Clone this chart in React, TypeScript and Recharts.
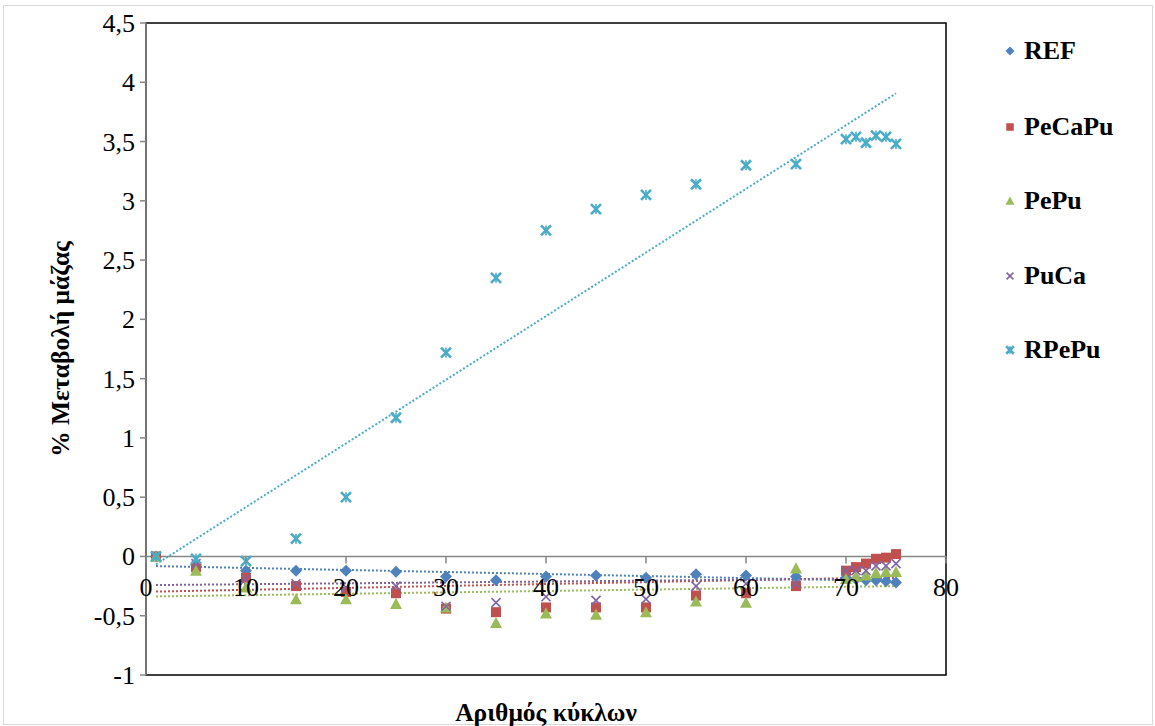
import React from 'react'
import { ScatterChart, Scatter, XAxis, YAxis, ReferenceLine, ReferenceArea } from 'recharts'

// cycle numbers (x) shared by every series
const CYCLES = [1, 5, 10, 15, 20, 25, 30, 35, 40, 45, 50, 55, 60, 65, 70, 71, 72, 73, 74, 75]

// % mass change per specimen type
const REF = [0, -0.07, -0.12, -0.12, -0.12, -0.13, -0.17, -0.2, -0.17, -0.16, -0.18, -0.15, -0.16, -0.17, -0.18, -0.19, -0.2, -0.2, -0.21, -0.22]
const PECAPU = [0, -0.09, -0.18, -0.25, -0.3, -0.31, -0.44, -0.47, -0.43, -0.43, -0.43, -0.33, -0.31, -0.25, -0.12, -0.09, -0.06, -0.02, -0.01, 0.02]
const PEPU = [0, -0.12, -0.26, -0.36, -0.36, -0.4, -0.43, -0.56, -0.48, -0.49, -0.47, -0.38, -0.39, -0.1, -0.19, -0.17, -0.16, -0.14, -0.13, -0.13]
const PUCA = [0, -0.06, -0.19, -0.23, -0.26, -0.25, -0.42, -0.39, -0.34, -0.37, -0.36, -0.25, -0.23, -0.23, -0.12, -0.12, -0.12, -0.08, -0.08, -0.06]
const RPEPU = [0, -0.02, -0.04, 0.15, 0.5, 1.17, 1.72, 2.35, 2.75, 2.93, 3.05, 3.14, 3.3, 3.31, 3.52, 3.54, 3.49, 3.55, 3.54, 3.48]

const X_TICKS = [0, 10, 20, 30, 40, 50, 60, 70, 80]
const Y_TICKS = [-1, -0.5, 0, 0.5, 1, 1.5, 2, 2.5, 3, 3.5, 4, 4.5]

const COLORS = {
  REF: '#4F81BD',
  PeCaPu: '#C0504D',
  PePu: '#9BBB59',
  PuCa: '#8064A2',
  RPePu: '#4BACC6',
}

const FONT = 'Liberation Serif'
const TICK_SIZE = 26
const TITLE_SIZE = 25.5
const AXIS_GRAY = '#868686'

const W = 1155
const H = 726
const PLOT_TOP = 23
const PLOT_LEFT = 146
const PLOT_RIGHT = 946
const PLOT_BOTTOM = 675
const Y_MIN = -1
const Y_MAX = 4.5
// pixel row of y = 0, where Excel draws the horizontal axis
const ZERO_Y = PLOT_TOP + (PLOT_BOTTOM - PLOT_TOP) * (Y_MAX / (Y_MAX - Y_MIN))

type Pt = { x: number; y: number }
const toPoints = (ys: number[]): Pt[] => ys.map((y, i) => ({ x: CYCLES[i], y }))

// least squares trendline, drawn over the data's x range (like Excel)
function trend(ys: number[]): Pt[] {
  const n = ys.length
  const mx = CYCLES.reduce((s, v) => s + v, 0) / n
  const my = ys.reduce((s, v) => s + v, 0) / n
  let sxy = 0
  let sxx = 0
  ys.forEach((y, i) => {
    sxy += (CYCLES[i] - mx) * (y - my)
    sxx += (CYCLES[i] - mx) ** 2
  })
  const b = sxy / sxx
  const a = my - b * mx
  const x0 = Math.min(...CYCLES)
  const x1 = Math.max(...CYCLES)
  return [
    { x: x0, y: a + b * x0 },
    { x: x1, y: a + b * x1 },
  ]
}

type MarkerKind = 'diamond' | 'square' | 'triangle' | 'x' | 'star'

function Marker({ kind, cx, cy, color, s = 1 }: { kind: MarkerKind; cx: number; cy: number; color: string; s?: number }) {
  if (kind === 'diamond') {
    const r = 6 * s
    return <polygon points={`${cx},${cy - r} ${cx + r},${cy} ${cx},${cy + r} ${cx - r},${cy}`} fill={color} />
  }
  if (kind === 'square') {
    const r = 5 * s
    return <rect x={cx - r} y={cy - r} width={r * 2} height={r * 2} fill={color} />
  }
  if (kind === 'triangle') {
    const r = 6 * s
    return <polygon points={`${cx},${cy - r} ${cx + r},${cy + r * 0.85} ${cx - r},${cy + r * 0.85}`} fill={color} />
  }
  if (kind === 'x') {
    const r = 4.5 * s
    return (
      <g stroke={color} strokeWidth={1.6}>
        <line x1={cx - r} y1={cy - r} x2={cx + r} y2={cy + r} />
        <line x1={cx - r} y1={cy + r} x2={cx + r} y2={cy - r} />
      </g>
    )
  }
  const r = 5 * s
  return (
    <g stroke={color} strokeWidth={2.6}>
      <line x1={cx - r} y1={cy - r} x2={cx + r} y2={cy + r} />
      <line x1={cx - r} y1={cy + r} x2={cx + r} y2={cy - r} />
      <line x1={cx} y1={cy - r} x2={cx} y2={cy + r} strokeWidth={1.6} />
    </g>
  )
}

const SERIES: { name: keyof typeof COLORS; values: number[]; kind: MarkerKind }[] = [
  { name: 'REF', values: REF, kind: 'diamond' },
  { name: 'PeCaPu', values: PECAPU, kind: 'square' },
  { name: 'PePu', values: PEPU, kind: 'triangle' },
  { name: 'PuCa', values: PUCA, kind: 'x' },
  { name: 'RPePu', values: RPEPU, kind: 'star' },
]

const LEGEND_Y = [51, 127, 201, 276, 350]

function XTick(props: any) {
  const { x, payload } = props
  return (
    <g>
      <line x1={x} x2={x} y1={ZERO_Y} y2={ZERO_Y + 7} stroke={AXIS_GRAY} strokeWidth={1.5} />
      <text x={x} y={ZERO_Y + 40} textAnchor="middle" style={{ fontFamily: FONT, fontSize: TICK_SIZE }} fill="#000">
        {payload.value}
      </text>
    </g>
  )
}

function YTick(props: any) {
  const { x, y, payload } = props
  return (
    <text x={x} y={y + 9} textAnchor="end" style={{ fontFamily: FONT, fontSize: TICK_SIZE }} fill="#000">
      {String(payload.value).replace('.', ',')}
    </text>
  )
}

export default function App() {
  return (
    <div style={{ position: 'fixed', left: 0, top: 0, width: W, height: H, background: '#fff', fontFamily: FONT }}>
      <div
        style={{
          position: 'absolute',
          left: 3,
          top: 5,
          width: W - 7,
          height: H - 8,
          border: '1px solid #d9d9d9',
        }}
      />
      <ScatterChart
        width={W}
        height={H}
        margin={{ top: PLOT_TOP, right: W - PLOT_RIGHT, bottom: 0, left: 0 }}
        style={{ position: 'absolute', left: 0, top: 0, fontFamily: FONT }}
      >
        <ReferenceArea
          x1={0}
          x2={80}
          y1={Y_MIN}
          y2={Y_MAX}
          fill="none"
          stroke="#000"
          strokeWidth={1.5}
          fillOpacity={0}
        />
        <XAxis
          type="number"
          dataKey="x"
          domain={[0, 80]}
          ticks={X_TICKS}
          height={H - PLOT_BOTTOM}
          axisLine={false}
          tickLine={false}
          tick={XTick}
          interval={0}
          label={{
            value: 'Αριθμός κύκλων',
            position: 'insideBottom',
            offset: 5,
            style: { fontFamily: FONT, fontSize: TITLE_SIZE, fontWeight: 700, fill: '#000' },
          }}
        />
        <YAxis
          type="number"
          dataKey="y"
          domain={[Y_MIN, Y_MAX]}
          ticks={Y_TICKS}
          width={PLOT_LEFT}
          interval={0}
          tickSize={6}
          tickMargin={5}
          axisLine={{ stroke: AXIS_GRAY, strokeWidth: 1.5 }}
          tickLine={{ stroke: AXIS_GRAY, strokeWidth: 1.5 }}
          tick={YTick}
          label={{
            value: '% Μεταβολή μάζας',
            angle: -90,
            position: 'insideLeft',
            offset: 60,
            style: { textAnchor: 'middle', fontFamily: FONT, fontSize: TITLE_SIZE, fontWeight: 700, fill: '#000' },
          }}
        />
        <ReferenceLine y={0} stroke={AXIS_GRAY} strokeWidth={1.5} />
        {SERIES.map((s) => (
          <Scatter
            key={`${s.name}-trend`}
            name={`${s.name}-trend`}
            data={trend(s.values)}
            line={{ stroke: COLORS[s.name], strokeWidth: 2, strokeDasharray: '2 2' }}
            lineType="joint"
            shape={() => <g />}
            legendType="none"
            isAnimationActive={false}
          />
        ))}
        {SERIES.map((s) => (
          <Scatter
            key={s.name}
            name={s.name}
            data={toPoints(s.values)}
            shape={(p: any) => <Marker kind={s.kind} cx={p.cx} cy={p.cy} color={COLORS[s.name]} />}
            isAnimationActive={false}
          />
        ))}
      </ScatterChart>
      {SERIES.map((s, i) => (
        <div
          key={s.name}
          style={{
            position: 'absolute',
            left: 1000,
            top: LEGEND_Y[i] - 16,
            height: 32,
            display: 'flex',
            alignItems: 'center',
            fontFamily: FONT,
            fontSize: 26,
            fontWeight: 700,
            color: '#000',
          }}
        >
          <svg width={20} height={20} style={{ marginRight: 4 }}>
            <Marker kind={s.kind} cx={10} cy={10} color={COLORS[s.name]} s={0.75} />
          </svg>
          {s.name}
        </div>
      ))}
    </div>
  )
}
